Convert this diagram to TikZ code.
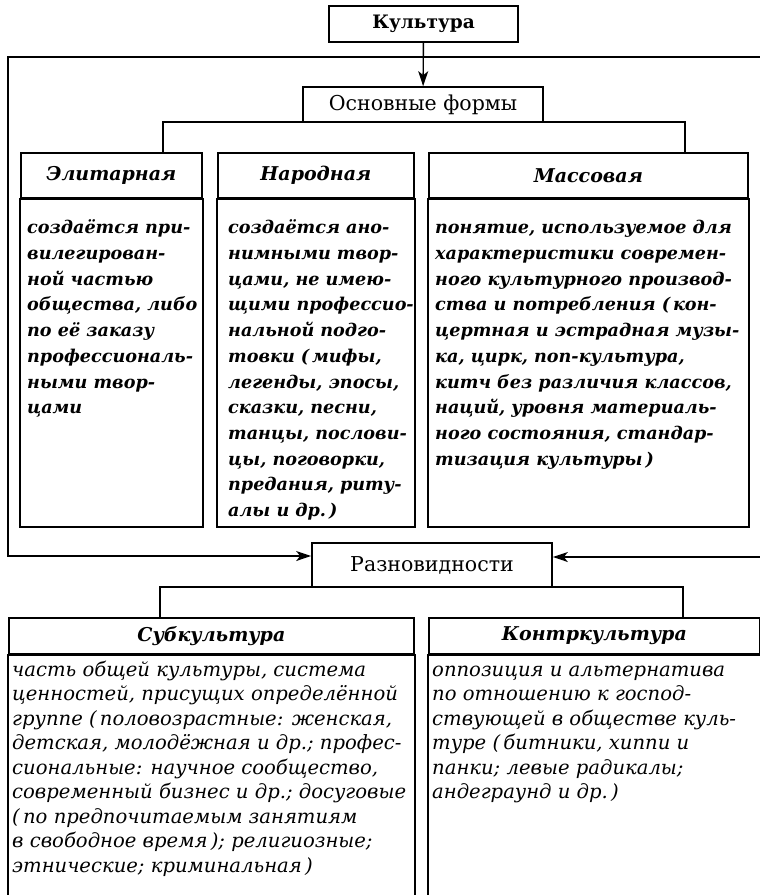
\documentclass[tikz,border=0pt]{standalone}
\usepackage{fontspec}
\setmainfont{DejaVu Serif}
\usetikzlibrary{arrows.meta,positioning}

\newcommand{\topbody}{\fontsize{17.6}{25.7}\selectfont\bfseries\itshape}
\newcommand{\lowbody}{\fontsize{19.6}{24.5}\selectfont\itshape}

\tikzset{
  boxline/.style={line width=1.7pt},
  link/.style={line width=1.4pt},
  tip/.style={-{Stealth[length=15pt,width=10pt,inset=4pt]}},
  topbox/.style={draw, boxline, rectangle, inner sep=0pt, font=\fontsize{20.5}{24}\selectfont},
  headbox/.style={draw, boxline, rectangle, inner sep=0pt, anchor=north west,
    font=\fontsize{19}{22}\selectfont\bfseries\itshape},
  bodytxt/.style={anchor=north west, align=left, inner xsep=7pt, inner ysep=17pt, font=\topbody},
  lowtxt/.style={anchor=north west, align=left, inner xsep=4pt, inner ysep=4pt, font=\lowbody},
}

\begin{document}
\begin{tikzpicture}[x=1pt, y=-1pt]
  \useasboundingbox (0,0) rectangle (760,895);
  \clip (0,0) rectangle (760,895);

  % top of the scheme
  \node[topbox, minimum width=189, minimum height=36, font=\fontsize{18.5}{22}\selectfont\bfseries] (kult) at (423.5,24) {Культура};
  \node[topbox, minimum width=240, minimum height=35] (forms) at (423,104.5) {Основные формы};
  \draw[link, tip] (kult) -- (forms);

  % the three forms
  \node[headbox, minimum width=181, minimum height=45] (elit) at (20,152) {Элитарная};
  \node[headbox, minimum width=196, minimum height=45] (narod) at (217,152) {Народная};
  \node[headbox, minimum width=319, minimum height=45] (mass) at (428,152) {Массовая};
  \coordinate (colbot) at (0,527);
  \draw[boxline] (elit.south west) rectangle (elit.south east |- colbot);
  \draw[boxline] (narod.south west) rectangle (narod.south east |- colbot);
  \draw[boxline] (mass.south west) rectangle (mass.south east |- colbot);

  \node[bodytxt] (elitb) at (elit.south west) {\strut создаётся при-\\вилегирован-\\ной частью\\общества, либо\\по её заказу\\профессиональ-\\ными твор-\\цами};
  \node[bodytxt, xshift=4pt] (narodb) at (narod.south west) {\strut создаётся ано-\\нимными твор-\\цами, не имею-\\щими профессио-\\нальной подго-\\товки (\,мифы,\\легенды, эпосы,\\сказки, песни,\\танцы, послови-\\цы, поговорки,\\предания, риту-\\алы и др.\,)};
  \node[bodytxt] (massb) at (mass.south west) {\strut понятие, используемое для\\характеристики современ-\\ного культурного производ-\\ства и потребления (\,кон-\\цертная и эстрадная музы-\\ка, цирк, поп-культура,\\китч без различия классов,\\наций, уровня материаль-\\ного состояния, стандар-\\тизация культуры\,)};

  \coordinate (fl) at (163,122);
  \coordinate (fr) at (685,122);
  \draw[link] (elit.north -| fl) -- (fl) -- (fr) -- (mass.north -| fr);

  % varieties
  \node[topbox, minimum width=240, minimum height=44] (razn) at (432,565) {Разновидности\hspace{18pt}};
  \coordinate (frTR) at (770,57);
  \coordinate (frBL) at (8,556);
  \coordinate (frR) at (770,557);
  \draw[link, tip] (frTR) -| (frBL) -- (frBL -| razn.west);
  \draw[link, tip] (frR) -- (frR -| razn.east);

  \node[headbox, minimum width=405, minimum height=36] (sub) at (8,617) {Субкультура};
  \node[headbox, minimum width=331, minimum height=36] (kontr) at (428,617) {Контркультура};
  \coordinate (lowbot) at (0,910);
  \draw[boxline] (sub.south west) rectangle (sub.south east |- lowbot);
  \draw[boxline] (kontr.south west) rectangle (kontr.south east |- lowbot);

  \coordinate (bl) at (160,587);
  \coordinate (br) at (683,587);
  \draw[link] (sub.north -| bl) -- (bl) -- (br) -- (kontr.north -| br);

  \node[lowtxt] (subb) at (sub.south west) {\strut часть общей культуры, система\\ценностей, присущих определённой\\группе (\,половозрастные: женская,\\детская, молодёжная и др.; профес-\\сиональные: научное сообщество,\\современный бизнес и др.; досуговые\\(\,по предпочитаемым занятиям\\в свободное время\,); религиозные;\\этнические; криминальная\,)};
  \node[lowtxt] (kontrb) at (kontr.south west) {\strut оппозиция и альтернатива\\по отношению к господ-\\ствующей в обществе куль-\\туре (\,битники, хиппи и\\панки; левые радикалы;\\андеграунд и др.\,)};
\end{tikzpicture}
\end{document}
